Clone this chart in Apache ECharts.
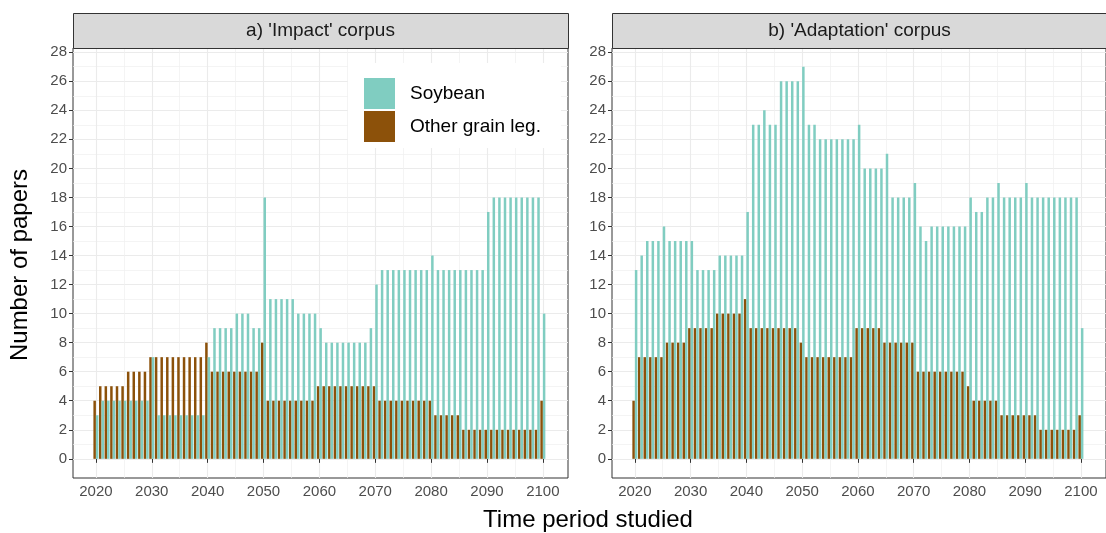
<!DOCTYPE html>
<html>
<head>
<meta charset="utf-8">
<script src="https://cdn.jsdelivr.net/npm/echarts@6/dist/echarts.min.js"></script>
<style>
html,body{margin:0;padding:0;background:#fff;}
#chart{width:1106px;height:533px;}
</style>
</head>
<body>
<div id="chart"></div>
<script>
// ---- data (years 2020..2100, one value per year) ----
const panelTitles = ["a) 'Impact' corpus", "b) 'Adaptation' corpus"];
const seriesNames = ['Soybean', 'Other grain leg.'];
const xTickLabels = [2020, 2030, 2040, 2050, 2060, 2070, 2080, 2090, 2100];
const yTickLabels = [0, 2, 4, 6, 8, 10, 12, 14, 16, 18, 20, 22, 24, 26, 28];

const soyImpact = [
  3, 4, 4, 4, 4, 4, 4, 4, 4, 4,
  7, 3, 3, 3, 3, 3, 3, 3, 3, 3,
  7, 9, 9, 9, 9, 10, 10, 10, 9, 9,
  18, 11, 11, 11, 11, 11, 10, 10, 10, 10,
  9, 8, 8, 8, 8, 8, 8, 8, 8, 9,
  12, 13, 13, 13, 13, 13, 13, 13, 13, 13,
  14, 13, 13, 13, 13, 13, 13, 13, 13, 13,
  17, 18, 18, 18, 18, 18, 18, 18, 18, 18,
  10
];
const otherImpact = [
  4, 5, 5, 5, 5, 5, 6, 6, 6, 6,
  7, 7, 7, 7, 7, 7, 7, 7, 7, 7,
  8, 6, 6, 6, 6, 6, 6, 6, 6, 6,
  8, 4, 4, 4, 4, 4, 4, 4, 4, 4,
  5, 5, 5, 5, 5, 5, 5, 5, 5, 5,
  5, 4, 4, 4, 4, 4, 4, 4, 4, 4,
  4, 3, 3, 3, 3, 3, 2, 2, 2, 2,
  2, 2, 2, 2, 2, 2, 2, 2, 2, 2,
  4
];
const soyAdapt = [
  13, 14, 15, 15, 15, 16, 15, 15, 15, 15,
  15, 13, 13, 13, 13, 14, 14, 14, 14, 14,
  17, 23, 23, 24, 23, 23, 26, 26, 26, 26,
  27, 23, 23, 22, 22, 22, 22, 22, 22, 22,
  23, 20, 20, 20, 20, 21, 18, 18, 18, 18,
  19, 16, 15, 16, 16, 16, 16, 16, 16, 16,
  18, 17, 17, 18, 18, 19, 18, 18, 18, 18,
  19, 18, 18, 18, 18, 18, 18, 18, 18, 18,
  9
];
const otherAdapt = [
  4, 7, 7, 7, 7, 7, 8, 8, 8, 8,
  9, 9, 9, 9, 9, 10, 10, 10, 10, 10,
  11, 9, 9, 9, 9, 9, 9, 9, 9, 9,
  8, 7, 7, 7, 7, 7, 7, 7, 7, 7,
  9, 9, 9, 9, 9, 8, 8, 8, 8, 8,
  8, 6, 6, 6, 6, 6, 6, 6, 6, 6,
  5, 4, 4, 4, 4, 4, 3, 3, 3, 3,
  3, 3, 3, 2, 2, 2, 2, 2, 2, 2,
  3
];

const firstYear = 2020;
const years = soyImpact.map((_, i) => firstYear + i);

// ---- styling / layout ----
const FONT = "'Liberation Sans', Arial, sans-serif";
const COL_SOY = '#80cdc1';
const COL_OTHER = '#8c510a';
const X_MIN = 2015.9, X_MAX = 2104.5;
const Y_MIN = -1.32, Y_MAX = 28.29;
const xMinor = xTickLabels.slice(0, -1).map(v => v + 5);
const yMinor = yTickLabels.slice(0, -1).map(v => v + 1);

const grids = [
  {left: 73, top: 48, width: 495, height: 430},
  {left: 612, top: 48, width: 495, height: 430}
];

const gridOpts = grids.map(g => Object.assign({
  show: true, backgroundColor: '#fff', borderColor: '#333', borderWidth: 1,
  containLabel: false
}, g));

const plain = v => String(v);

const xAxes = [], yAxes = [];
grids.forEach((g, gi) => {
  // major axis (ticks, labels, major grid)
  xAxes.push({
    type: 'value', gridIndex: gi, min: X_MIN, max: X_MAX,
    axisLine: {show: false},
    axisTick: {show: true, customValues: xTickLabels, length: 4, lineStyle: {color: '#333'}},
    axisLabel: {customValues: xTickLabels, formatter: plain, color: '#4D4D4D', fontSize: 15, fontFamily: FONT, margin: 6},
    splitLine: {show: true, customValues: xTickLabels, lineStyle: {color: '#EBEBEB', width: 1.1}}
  });
  yAxes.push({
    type: 'value', gridIndex: gi, min: Y_MIN, max: Y_MAX,
    axisLine: {show: false},
    axisTick: {show: true, customValues: yTickLabels, length: 4, lineStyle: {color: '#333'}},
    axisLabel: {customValues: yTickLabels, formatter: plain, color: '#4D4D4D', fontSize: 15, fontFamily: FONT, margin: 6},
    splitLine: {show: true, customValues: yTickLabels, lineStyle: {color: '#EBEBEB', width: 1.1}}
  });
});
grids.forEach((g, gi) => {
  // minor grid axes
  xAxes.push({
    type: 'value', gridIndex: gi, min: X_MIN, max: X_MAX,
    axisLine: {show: false}, axisLabel: {show: false},
    axisTick: {show: false, customValues: xMinor},
    splitLine: {show: true, customValues: xMinor, lineStyle: {color: '#EFEFEF', width: 0.7}}
  });
  yAxes.push({
    type: 'value', gridIndex: gi, min: Y_MIN, max: Y_MAX,
    axisLine: {show: false}, axisLabel: {show: false},
    axisTick: {show: false, customValues: yMinor},
    splitLine: {show: true, customValues: yMinor, lineStyle: {color: '#EFEFEF', width: 0.7}}
  });
});

function pairs(vals) { return vals.map((v, i) => [years[i], v]); }

const panelData = [
  {soy: soyImpact, other: otherImpact},
  {soy: soyAdapt, other: otherAdapt}
];
const series = [];
panelData.forEach((p, gi) => {
  series.push({
    name: seriesNames[1], type: 'bar', xAxisIndex: gi, yAxisIndex: gi,
    data: pairs(p.other), barWidth: 2.5, barGap: '0%',
    itemStyle: {color: COL_OTHER}, emphasis: {disabled: true}, z: 3
  });
  series.push({
    name: seriesNames[0], type: 'bar', xAxisIndex: gi, yAxisIndex: gi,
    data: pairs(p.soy), barWidth: 2.5, barGap: '0%',
    itemStyle: {color: COL_SOY}, emphasis: {disabled: true}, z: 3
  });
});

const graphics = [];
grids.forEach((g, gi) => {
  graphics.push({
    type: 'rect', left: g.left, top: 13, z: 10,
    shape: {width: g.width, height: 35},
    style: {fill: '#D9D9D9', stroke: '#333', lineWidth: 1}
  });
  graphics.push({
    type: 'text', z: 11,
    x: g.left + g.width / 2, y: 31,
    style: {text: panelTitles[gi], fill: '#1A1A1A', font: '19px ' + FONT,
            textAlign: 'center', textVerticalAlign: 'middle'}
  });
});
graphics.push({
  type: 'text', z: 11, x: 588, y: 520,
  style: {text: 'Time period studied', fill: '#000', font: '24px ' + FONT,
          textAlign: 'center', textVerticalAlign: 'middle'}
});
graphics.push({
  type: 'text', z: 11, x: 20, y: 265, rotation: Math.PI / 2,
  style: {text: 'Number of papers', fill: '#000', font: '24px ' + FONT,
          textAlign: 'center', textVerticalAlign: 'middle'}
});

const chart = echarts.init(document.getElementById('chart'), null, {renderer: 'canvas'});
chart.setOption({
  animation: false,
  backgroundColor: '#fff',
  textStyle: {fontFamily: FONT},
  grid: gridOpts,
  xAxis: xAxes,
  yAxis: yAxes,
  legend: {
    data: seriesNames,
    orient: 'vertical', left: 348, top: 63,
    itemWidth: 31, itemHeight: 31, itemGap: 2, icon: 'rect',
    padding: [15, 20, 6, 16],
    backgroundColor: '#fff',
    selectedMode: false,
    textStyle: {fontSize: 19, color: '#000', fontFamily: FONT, padding: [0, 0, 0, 10]}
  },
  series: series,
  graphic: graphics
});
</script>
</body>
</html>
